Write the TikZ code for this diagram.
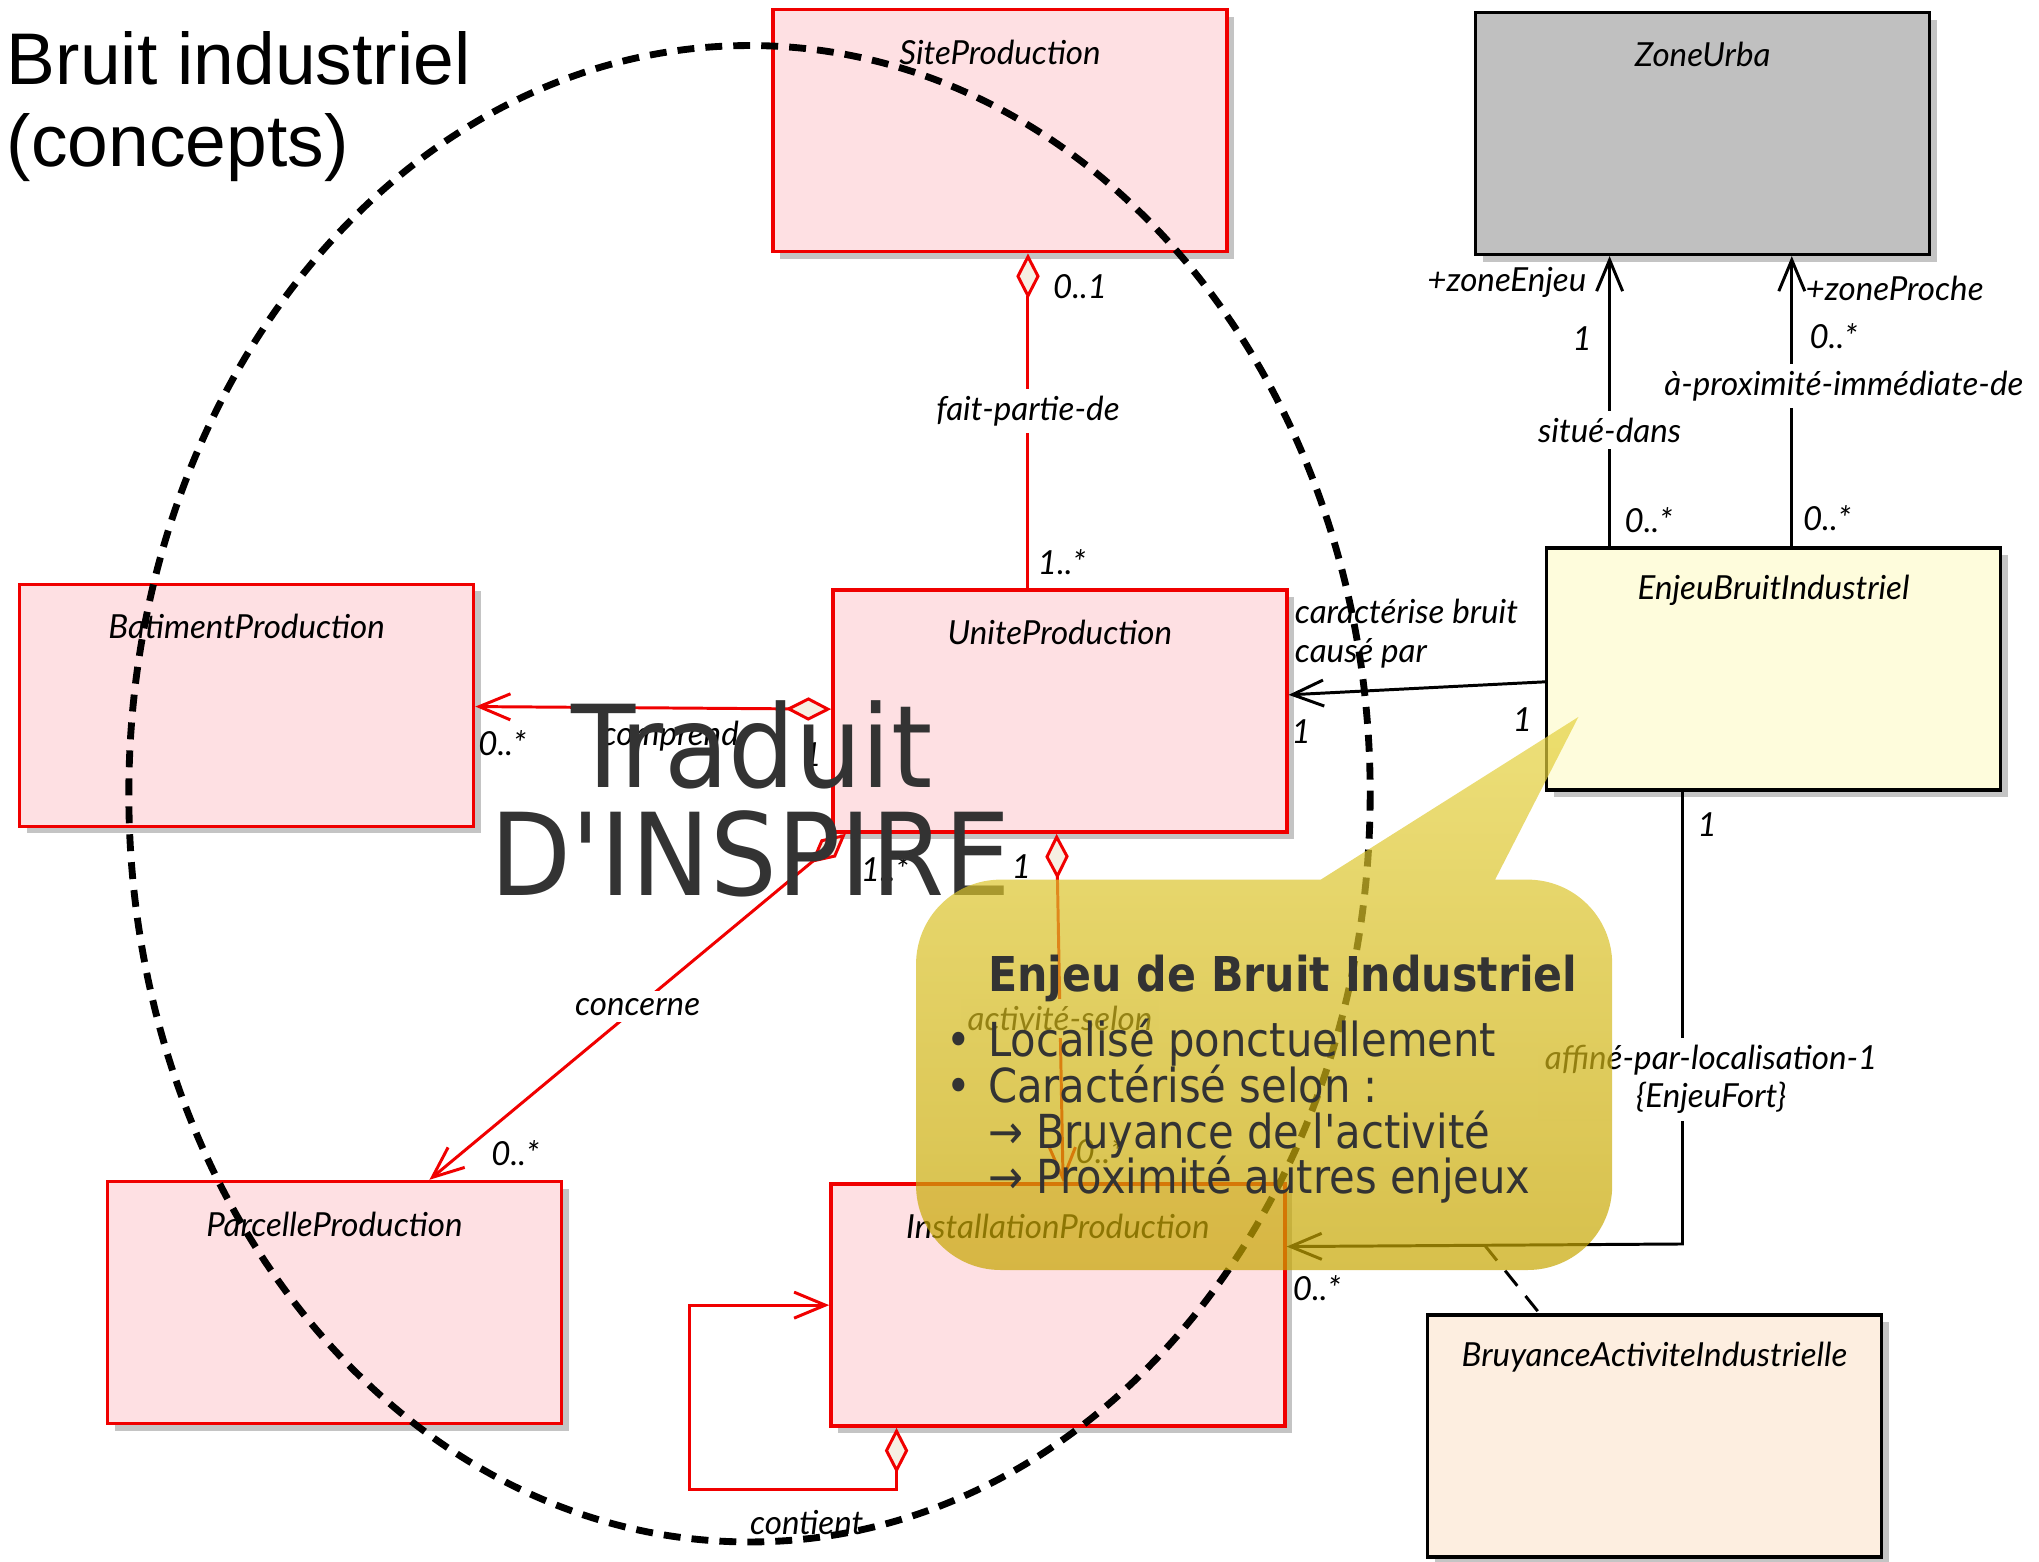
\documentclass[tikz,border=0pt]{standalone}
\usepackage{fontspec}
\usepackage{tikz}
\usetikzlibrary{arrows.meta,shadows}

\newfontfamily\handfont{Lato}
\newfontfamily\titlefont{Liberation Sans}
\newfontfamily\notefont[FakeStretch=0.89,Ligatures=TeXOff]{DejaVu Sans}
\newfontfamily\bigfont[FakeStretch=0.92,Ligatures=TeXOff]{DejaVu Sans}

\definecolor{redline}{RGB}{240,0,0}
\definecolor{redfill}{RGB}{254,224,227}
\definecolor{aggfill}{RGB}{246,239,226}
\definecolor{zonefill}{RGB}{192,192,192}
\definecolor{enjeufill}{RGB}{254,252,220}
\definecolor{bruyfill}{RGB}{253,238,224}
\definecolor{shadowgray}{RGB}{196,196,196}
\definecolor{notetext}{RGB}{51,51,51}
\definecolor{notetop}{RGB}{229,210,64}
\definecolor{notebottom}{RGB}{198,165,0}

\begin{document}
\begin{tikzpicture}[x=0.02cm, y=-0.02cm]
        \tikzstyle{every node} = [rectangle]
        \tikzstyle{lbl} = [font=\handfont\itshape\fontsize{14.5}{17}\selectfont, inner sep=1pt]
        \tikzstyle{midlbl} = [lbl, fill=white, inner sep=3pt]
        \tikzstyle{redlink} = [draw=redline, line width=1.3pt]
        \tikzstyle{blacklink} = [draw=black, line width=1.3pt]
        \tikzstyle{assocline} = [draw=black, line width=1.3pt, dash pattern=on 0.3cm off 0.2cm]
        \tikzstyle{ring} = [draw=black, line width=3pt, dash pattern=on 0.26cm off 0.17cm]
        \tikzstyle{bigtxt} = [font=\bigfont\fontsize{50}{50}\selectfont, text=notetext, inner sep=0pt]
        \tikzstyle{notetxt} = [font=\notefont\fontsize{20.5}{20.5}\selectfont, text=notetext, inner sep=0pt]
        \tikzstyle{note} = [top color=notetop, bottom color=notebottom, opacity=0.7]
        \tikzset{
            aggtip/.tip = {Diamond[length=0.7cm, width=0.36cm, fill=aggfill]},
            barb/.tip = {Straight Barb[length=0.48cm, width=0.4cm]},
            classbox/.style = {draw, line width=1.5pt, minimum width=6.98cm, minimum height=3.72cm,
                inner sep=0pt, drop shadow={shadow xshift=0.11cm, shadow yshift=-0.11cm, fill=shadowgray, opacity=1},
                label={[lbl, anchor=center, yshift=-0.68cm]north:#1}}
        }
        \useasboundingbox (0,0) rectangle (1567,1200);

        % title
        \node[font=\titlefont\fontsize{32}{36}\selectfont, anchor=base west, inner sep=0pt] (title1) at (5,65) {Bruit industriel};
        \node[font=\titlefont\fontsize{32}{36}\selectfont, anchor=base west, inner sep=0pt] (title2) at (5,128) {(concepts)};

        % classes
        \node[classbox=SiteProduction, draw=redline, fill=redfill] (site) at (768.5,100.5) {};
        \node[classbox=ZoneUrba, fill=zonefill] (zone) at (1308.5,102.5) {};
        \node[classbox=BatimentProduction, draw=redline, fill=redfill] (bat) at (189.5,542) {};
        \node[classbox=UniteProduction, draw=redline, fill=redfill] (unite) at (814.5,546.5) {};
        \node[classbox=EnjeuBruitIndustriel, fill=enjeufill] (enjeu) at (1363,514) {};
        \node[classbox=ParcelleProduction, draw=redline, fill=redfill] (parcelle) at (257,1001) {};
        \node[classbox=InstallationProduction, draw=redline, fill=redfill] (install) at (813,1003) {};
        \node[classbox=BruyanceActiviteIndustrielle, fill=bruyfill] (bruy) at (1271.5,1103.5) {};

        % associations
        \draw[redlink, aggtip-] (790,0 |- site.south) -- node[midlbl, pos=0.47] (fpd) {fait-partie-de} (790,0 |- unite.north);
        \draw[redlink, aggtip-barb] (unite.west |- 0,545) -- (bat.east |- 0,543);
        \draw[redlink, aggtip-barb] (650,0 |- unite.south) -- node[midlbl, pos=0.5] (conc) {concerne} (330,0 |- parcelle.north);
        \draw[redlink, aggtip-barb] (812,0 |- unite.south) -- node[midlbl, pos=0.53] (act) {activité-selon} (817,0 |- install.north);
        \draw[redlink, aggtip-barb] (689,0 |- install.south) -- (689,1145) -- (530,1145) -- (530,1003) -- (install.west |- 0,1003);
        \draw[blacklink, -barb] (1237,0 |- enjeu.north) -- node[midlbl, pos=0.4] (sd) {situé-dans} (1237,0 |- zone.south);
        \draw[blacklink, -barb] (1377,0 |- enjeu.north) -- node[midlbl, pos=0.553, xshift=0.8cm] (apid) {à-proximité-immédiate-de} (1377,0 |- zone.south);
        \draw[blacklink, -barb] (enjeu.west |- 0,524) -- (unite.east |- 0,534);
        \draw[blacklink, -barb] (1293,0 |- enjeu.south) -- node[midlbl, pos=0.636, xshift=0.44cm, align=center] (apl) {affiné-par-localisation-1\\\{EnjeuFort\}} (1293,956) -- (install.east |- 0,958);
        \coordinate (assoc) at (1141,957);
        \draw[assocline] (assoc) -- (1183,0 |- bruy.north);

        % roles and multiplicities
        \foreach \name/\x/\y/\txt in {m1/830/220/{0..1}, m2/816/432/{1..*}, m3/386/571/{0..*}, m4/624/580/{1},
            m5/680/668/{1..*}, m6/396/886/{0..*}, m7/785/666/{1}, m8/845/885/{0..*},
            m9/1158/217/{+zoneEnjeu}, m10/1216/260/{1}, m11/1267/400/{0..*}, m12/1456/222/{+zoneProche},
            m13/1409/258/{0..*}, m14/1404/398/{0..*}, m16/1000/562/{1}, m17/1170/553/{1},
            m18/1312/634/{1}, m19/1012/990/{0..*}, comp/515/566/{comprend}, cont/620/1170/{contient}}
            \node[lbl] (\name) at (\x,\y) {\txt};
        \node[lbl, align=left, anchor=west] (carac) at (993,487) {caractérise bruit\\causé par};

        \draw[ring] (576,610) ellipse [x radius=477, y radius=575];

        \node[bigtxt, anchor=base] (trad1) at (578,605) {Traduit};
        \node[bigtxt, anchor=base] (trad2) at (577,688) {D'INSPIRE};

        % callout
        \shade[note] (1213,551) -- (1149,676) -- (1174,676) arc[start angle=270, end angle=360, radius=65]
            -- (1239,911) arc[start angle=0, end angle=90, radius=65]
            -- (769,976) arc[start angle=90, end angle=180, radius=65]
            -- (704,741) arc[start angle=180, end angle=270, radius=65] -- (1015,676) -- cycle;
        \node[notetxt, font=\notefont\bfseries\fontsize{21}{21}\selectfont, anchor=base west] (ntitle) at (759,762) {Enjeu de Bruit Industriel};
        \node[notetxt, anchor=base west] (n1) at (727,812) {\makebox[0.64cm][l]{•}Localisé ponctuellement};
        \node[notetxt, anchor=base west] (n2) at (727,847) {\makebox[0.64cm][l]{•}Caractérisé selon :};
        \node[notetxt, anchor=base west] (n3) at (759,883) {→ Bruyance de l'activité};
        \node[notetxt, anchor=base west] (n4) at (759,917) {→ Proximité autres enjeux};
\end{tikzpicture}
\end{document}
